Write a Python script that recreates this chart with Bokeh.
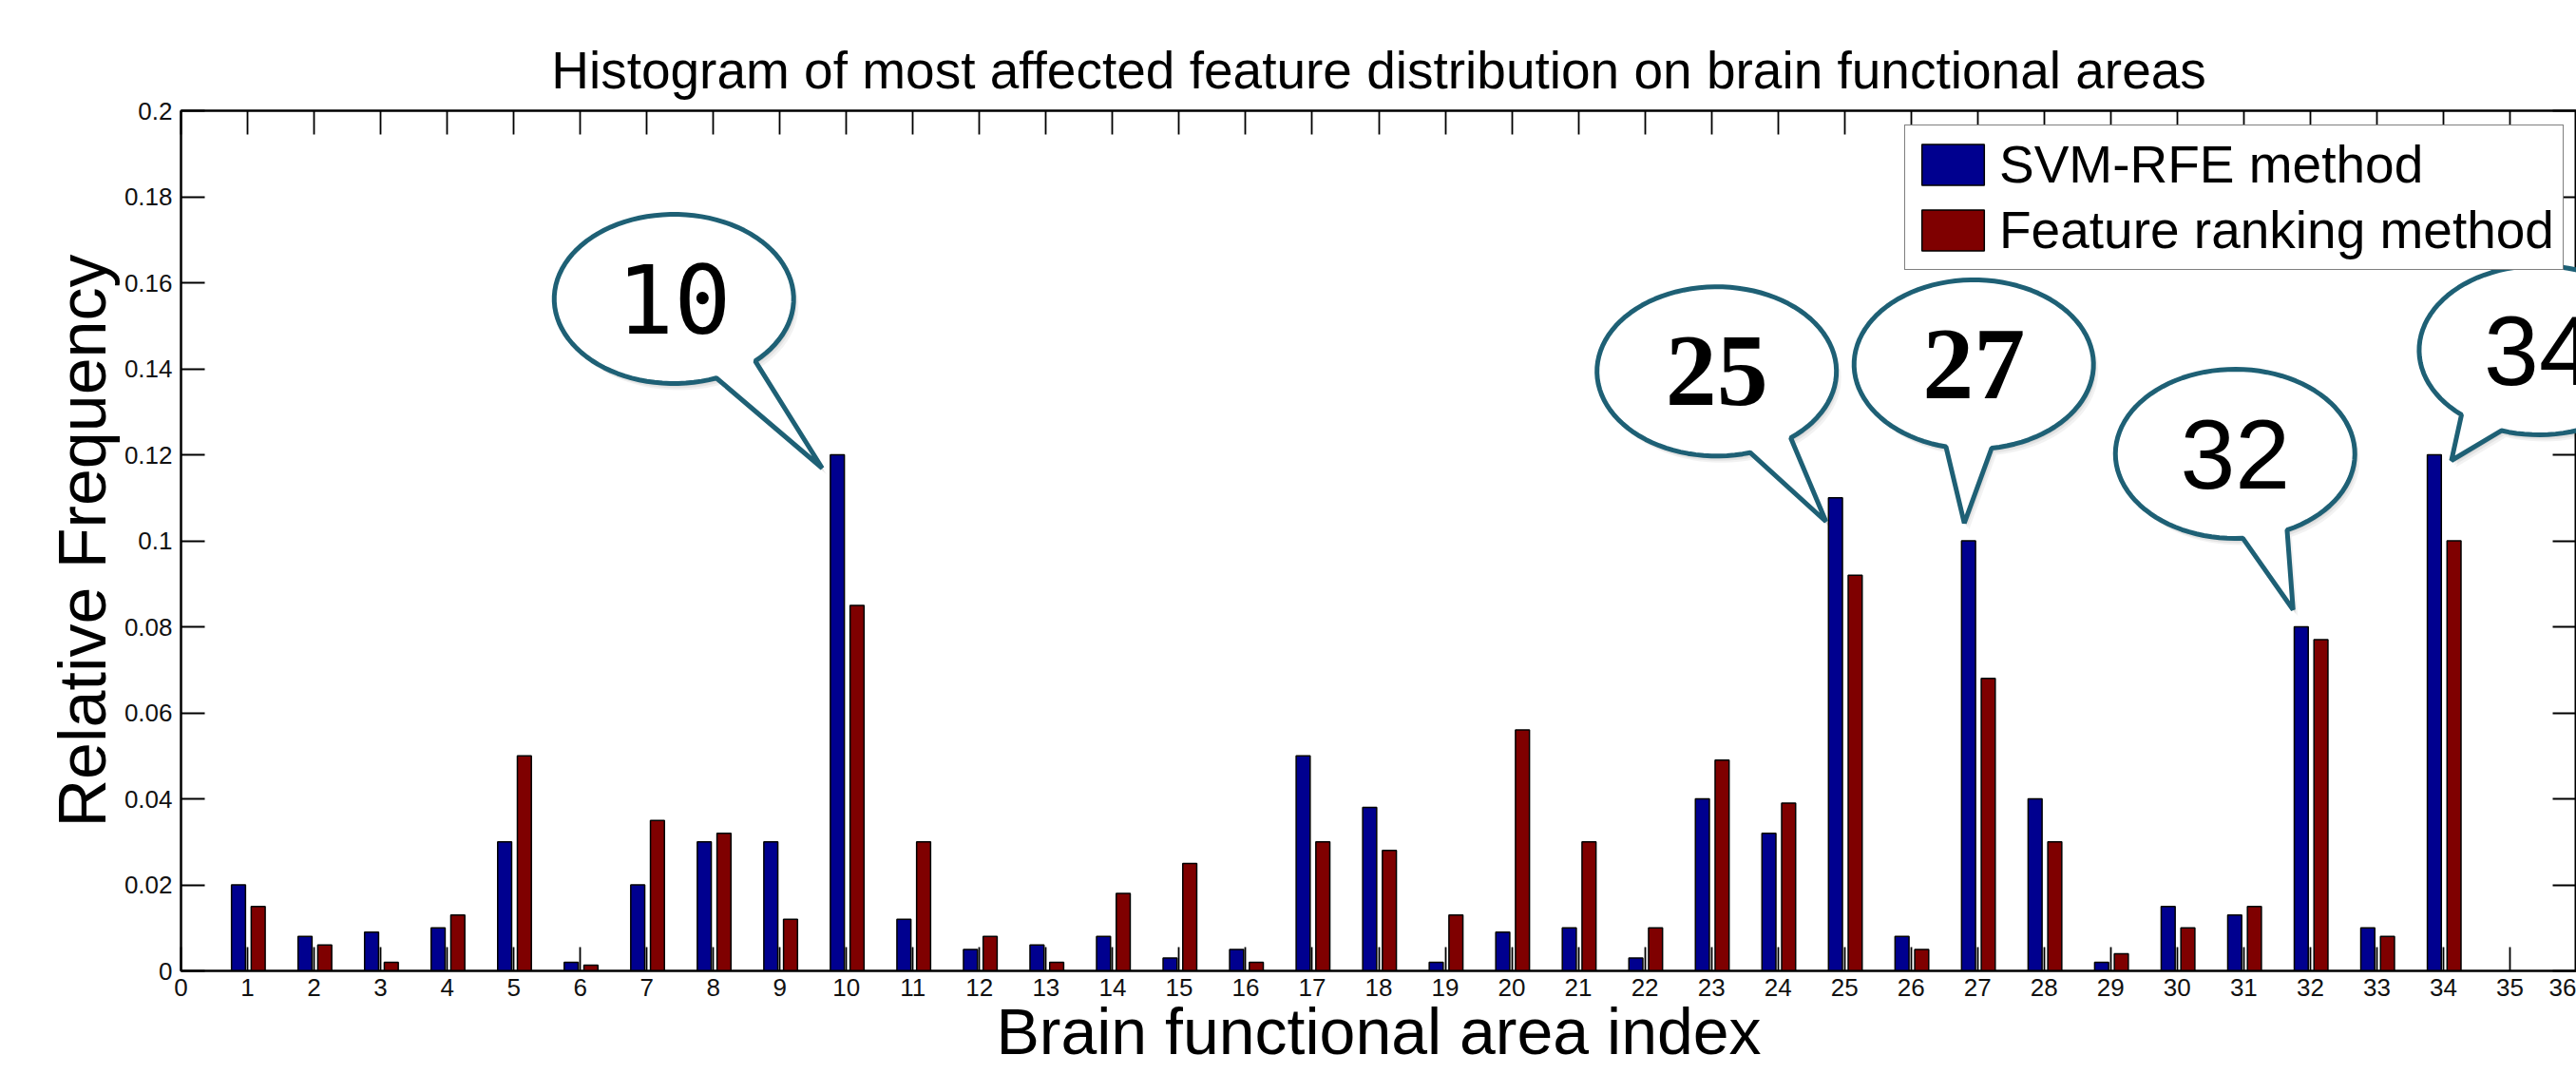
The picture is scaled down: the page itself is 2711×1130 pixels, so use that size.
import math
from bokeh.plotting import figure
from bokeh.models import (FixedTicker, LinearAxis, Range1d, Legend, LegendItem,
                          Title, NumeralTickFormatter, CustomJSTickFormatter)
from bokeh.core.properties import value
from bokeh.embed import file_html
from bokeh.resources import INLINE

# ---------------- data ----------------
area_index = list(range(1, 35))
svm_rfe = [0.020, 0.008, 0.009, 0.010, 0.030, 0.002, 0.020, 0.030, 0.030, 0.120,
           0.012, 0.005, 0.006, 0.008, 0.003, 0.005, 0.050, 0.038, 0.002, 0.009,
           0.010, 0.003, 0.040, 0.032, 0.110, 0.008, 0.100, 0.040, 0.002, 0.015,
           0.013, 0.080, 0.010, 0.120]
feature_ranking = [0.015, 0.006, 0.002, 0.013, 0.050, 0.0013, 0.035, 0.032, 0.012, 0.085,
                   0.030, 0.008, 0.002, 0.018, 0.025, 0.002, 0.030, 0.028, 0.013, 0.056,
                   0.030, 0.010, 0.049, 0.039, 0.092, 0.005, 0.068, 0.030, 0.004, 0.010,
                   0.015, 0.077, 0.008, 0.100]
highlighted_areas = [10, 25, 27, 32, 34]
x_ticks = list(range(0, 37))
y_ticks = [0, 0.02, 0.04, 0.06, 0.08, 0.1, 0.12, 0.14, 0.16, 0.18, 0.2]
series_labels = ["SVM-RFE method", "Feature ranking method"]
title_text = "Histogram of most affected feature distribution on brain functional areas"
x_title = "Brain functional area index"
y_title = "Relative Frequency"

# ---------------- layout / style ----------------
W, H = 2711, 1130
LEFT, TOP, BOTTOM, RIGHT = 190, 116, 109, 0
FRAME_W = W - LEFT - RIGHT
FRAME_H = H - TOP - BOTTOM
X0, X1 = 0, 36
Y0, Y1 = 0, 0.2
PX_X = FRAME_W / (X1 - X0)
PX_Y = FRAME_H / (Y1 - Y0)

BLUE = "#00008f"
RED = "#7f0000"
TEAL = "#1e6075"
FONT = "Liberation Sans"
BAR_W = 0.21
BLUE_OFF = -0.136
RED_OFF = 0.16

p = figure(width=W, height=H, output_backend="svg", toolbar_location=None,
           x_range=Range1d(X0, X1), y_range=Range1d(Y0, Y1),
           min_border_left=LEFT, min_border_right=RIGHT,
           min_border_top=TOP, min_border_bottom=BOTTOM,
           background_fill_color="white", border_fill_color="white")
p.xgrid.visible = False
p.ygrid.visible = False
p.outline_line_color = "black"
p.outline_line_width = 2

bottom_ax = p.below[0]
left_ax = p.left[0]

r_svm = p.vbar(x=[i + BLUE_OFF for i in area_index], top=svm_rfe, bottom=0, width=BAR_W,
               fill_color=BLUE, line_color="black", line_width=1.5)
r_fr = p.vbar(x=[i + RED_OFF for i in area_index], top=feature_ranking, bottom=0, width=BAR_W,
              fill_color=RED, line_color="black", line_width=1.5)

# axes
bottom_ax.ticker = FixedTicker(ticks=x_ticks)
left_ax.ticker = FixedTicker(ticks=y_ticks)
left_ax.formatter = NumeralTickFormatter(format="0.[00]")
blank = CustomJSTickFormatter(code="return ''")
top_ax = LinearAxis(ticker=FixedTicker(ticks=x_ticks), formatter=blank,
                    major_label_text_font_size="1px", major_label_standoff=0)
right_ax = LinearAxis(ticker=FixedTicker(ticks=y_ticks), formatter=blank,
                      major_label_text_font_size="1px", major_label_standoff=0)
p.add_layout(top_ax, "above")
p.add_layout(right_ax, "right")
for ax in [bottom_ax, left_ax, top_ax, right_ax]:
    ax.major_tick_in = 25
    ax.major_tick_out = 0
    ax.minor_tick_in = 0
    ax.minor_tick_out = 0
    ax.axis_line_color = "black"
    ax.axis_line_width = 2
    ax.major_tick_line_color = "black"
    ax.major_tick_line_width = 1.8
for ax in [bottom_ax, left_ax]:
    ax.major_label_text_font = FONT
    ax.major_label_text_font_size = "26px"
    ax.major_label_text_color = "#111111"
    ax.axis_label_text_font = FONT
    ax.axis_label_text_font_style = "normal"
    ax.axis_label_text_color = "black"
bottom_ax.major_label_standoff = 8
left_ax.major_label_standoff = 9
left_ax.axis_label = y_title
left_ax.axis_label_text_font_size = "70px"
left_ax.axis_label_standoff = 2
bottom_ax.axis_label = x_title
bottom_ax.axis_label_text_font_size = "68px"
bottom_ax.axis_label_standoff = -4

p.title = Title(text=title_text, align="center", text_font=FONT, text_font_size="55px",
                text_font_style="normal", text_color="black", standoff=23)

legend = Legend(items=[LegendItem(label=series_labels[0], renderers=[r_svm]),
                       LegendItem(label=series_labels[1], renderers=[r_fr])],
                location=(1814, 737), padding=9, spacing=5,
                glyph_width=82, glyph_height=54, label_standoff=8,
                label_text_font=FONT, label_text_font_size="55px", label_text_color="black",
                border_line_color="black", border_line_width=1.5,
                background_fill_color="white", background_fill_alpha=1.0)
p.add_layout(legend)

# ---------------- speech-bubble callouts ----------------
# (area, tip offset from blue bar top centre [px, y down], bubble centre offset from tip [px], font, style, size)
callouts = [
    (10, -16, 14, -156, -178, "DejaVu Sans Mono", "normal", "100px"),
    (25, -10, 25, -115, -158, "Liberation Serif", "bold", "108px"),
    (27, -4.5, -18.5, 10, -167, "Liberation Serif", "bold", "108px"),
    (32, -8.6, -18, -61, -164, FONT, "normal", "104px"),
    (34, 18, 6, 92, -116, FONT, "normal", "104px"),
]
A_PX, B_PX = 126, 89
HALF_TAIL = math.radians(11)


def bubble(cx, cy, tdx, tdy, sx=0.0, sy=0.0):
    th = math.atan2(tdy / B_PX, tdx / A_PX)
    n = 90
    t0 = th + HALF_TAIL
    t1 = th - HALF_TAIL + 2 * math.pi
    xs, ys = [], []
    for k in range(n + 1):
        t = t0 + (t1 - t0) * k / n
        xs.append(cx + (A_PX * math.cos(t) + sx) / PX_X)
        ys.append(cy - (B_PX * math.sin(t) + sy) / PX_Y)
    xs.append(cx + (tdx + sx) / PX_X)
    ys.append(cy - (tdy + sy) / PX_Y)
    return xs, ys


for area, tdx0, tdy0, cdx, cdy, fnt, fstyle, fsize in callouts:
    if area not in highlighted_areas:
        continue
    bx = area + BLUE_OFF
    by = svm_rfe[area - 1]
    tip_x = bx + tdx0 / PX_X
    tip_y = by - tdy0 / PX_Y
    cx = tip_x + cdx / PX_X
    cy = tip_y - cdy / PX_Y
    tdx, tdy = -cdx, -cdy
    for (ox, oy, al) in [(2, 3, 0.06), (3, 5, 0.06), (5, 7, 0.05)]:
        sxs, sys_ = bubble(cx, cy, tdx, tdy, ox, oy)
        p.patch(sxs, sys_, fill_color="black", fill_alpha=al, line_color=None, level="overlay")
    bxs, bys = bubble(cx, cy, tdx, tdy)
    p.patch(bxs, bys, fill_color="white", line_color=TEAL, line_width=5, level="overlay")
    p.text(x=[cx], y=[cy], text=[str(area)], text_font=value(fnt), text_font_size=value(fsize),
           text_font_style=fstyle, text_align="center", text_baseline="middle",
           text_color="black", level="overlay")

open("out.html", "w").write(file_html(p, INLINE))
